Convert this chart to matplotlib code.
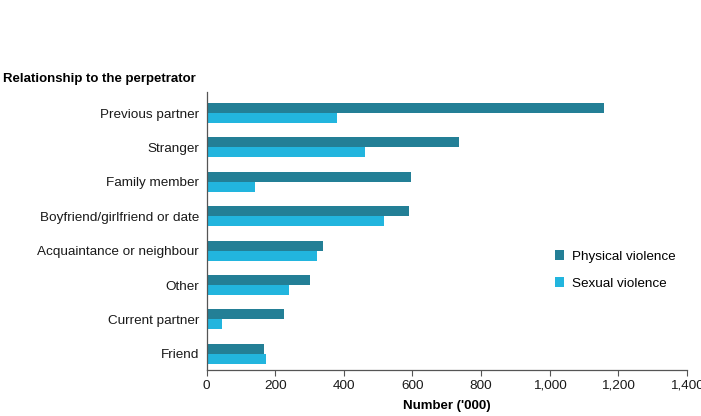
import numpy as np
import matplotlib.pyplot as plt

plt.rcParams['font.family'] = ['Liberation Sans', 'DejaVu Sans']

categories = ["Previous partner", "Stranger", "Family member", "Boyfriend/girlfriend or date",
              "Acquaintance or neighbour", "Other", "Current partner", "Friend"]
physical = [1159, 736, 596, 591, 340, 301, 227, 168]
sexual = [381, 462, 141, 518, 322, 241, 44, 172]
xticks = [0, 200, 400, 600, 800, 1000, 1200, 1400]
xticklabels = ["0", "200", "400", "600", "800", "1,000", "1,200", "1,400"]

fig = plt.figure(figsize=(7.01, 4.16), dpi=100)
ax = fig.add_axes([0.2946, 0.1106, 0.6854, 0.6682])

pos = np.arange(len(categories))[::-1]
h = 0.29
ax.barh(pos + h / 2, physical, height=h, color='#237F96', label='Physical violence')
ax.barh(pos - h / 2, sexual, height=h, color='#22B5DE', label='Sexual violence')

ax.set_xlim(0, 1400)
ax.set_ylim(-0.47, 7.61)
ax.set_yticks(pos)
ax.set_yticklabels(categories, fontsize=9.7, color='#1a1a1a')
ax.set_xticks(xticks)
ax.set_xticklabels(xticklabels, fontsize=9.7, color='#1a1a1a')
ax.tick_params(axis='y', length=0, pad=5.5)
ax.tick_params(axis='x', length=4, color='#555555', pad=3)
for s in ['top', 'right']:
    ax.spines[s].set_visible(False)
for s in ['left', 'bottom']:
    ax.spines[s].set_color('#555555')
    ax.spines[s].set_linewidth(0.9)

ax.set_xlabel("Number ('000)", fontsize=9.5, fontweight='bold', labelpad=6)
fig.text(0.004, 0.81, "Relationship to the perpetrator", fontsize=9.5, fontweight='bold',
         va='center', ha='left')

ax.legend(loc='center left', bbox_to_anchor=(0.7, 0.36), frameon=False, fontsize=9.7,
          handlelength=0.7, handleheight=0.7, handletextpad=0.6, labelspacing=1.1)

fig.savefig('out.png', dpi=100)
